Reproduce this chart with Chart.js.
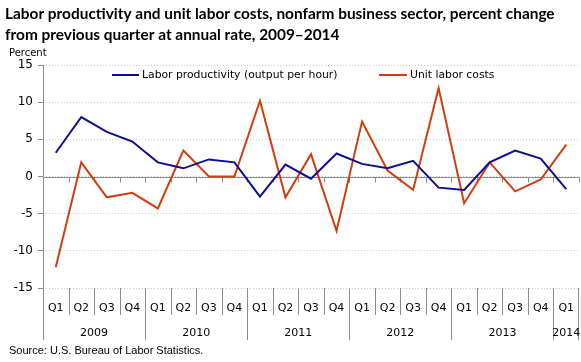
<!DOCTYPE html>
<html>
<head>
<meta charset="utf-8">
<script src="https://cdn.jsdelivr.net/npm/chart.js@4.4.1/dist/chart.umd.min.js"></script>
<style>
  html, body { margin: 0; padding: 0; background: #fff; }
  #wrap { width: 581px; height: 362px; }
</style>
</head>
<body>
<div id="wrap"><canvas id="c" width="581" height="362"></canvas></div>
<script>
const QUARTERS = ["Q1","Q2","Q3","Q4","Q1","Q2","Q3","Q4","Q1","Q2","Q3","Q4",
                  "Q1","Q2","Q3","Q4","Q1","Q2","Q3","Q4","Q1"];
const YEARS = ["2009","2010","2011","2012","2013","2014"];
const YEAR_SPANS = [4, 4, 4, 4, 4, 1];
const PRODUCTIVITY = [3.2, 8.0, 6.0, 4.7, 1.9, 1.1, 2.3, 1.9, -2.7, 1.6, -0.3, 3.1,
                      1.7, 1.1, 2.1, -1.5, -1.8, 1.9, 3.5, 2.4, -1.7];
const UNIT_LABOR_COSTS = [-12.2, 1.9, -2.8, -2.2, -4.3, 3.5, 0.0, 0.0, 10.2, -2.8, 3.0, -7.3,
                          7.4, 0.8, -1.8, 11.9, -3.6, 1.9, -2.0, -0.4, 4.3];
const Y_TICKS = [15, 10, 5, 0, -5, -10, -15];

const BLUE = "#0c0c94";
const ORANGE = "#d23d0c";
const AXIS = "#8c8c8c";
const FONT = "'DejaVu Sans', Verdana, sans-serif";

/* Extra drawing: titles, zero line, legend, two-level category axis */
const decor = {
  id: "decor",
  beforeDatasetsDraw(chart) {
    const { ctx, chartArea: a, scales: { x, y } } = chart;
    ctx.save();
    // zero line + little ticks
    const y0 = Math.round(y.getPixelForValue(0)) + 0.5;
    ctx.strokeStyle = AXIS;
    ctx.lineWidth = 1;
    ctx.beginPath();
    ctx.moveTo(a.left, y0); ctx.lineTo(a.right, y0);
    for (let i = 1; i <= QUARTERS.length; i++) {
      const px = Math.round(x.getPixelForValue(i - 0.5)) + 0.5;
      ctx.moveTo(px, y0); ctx.lineTo(px, y0 + 5);
    }
    ctx.stroke();
    ctx.restore();
  },
  afterDraw(chart) {
    const { ctx, chartArea: a, scales: { x } } = chart;
    ctx.save();
    ctx.fillStyle = "#000";
    ctx.textBaseline = "alphabetic";
    ctx.textAlign = "left";
    ctx.font = "bold 15.4px Lato, sans-serif";
    ctx.fillText("Labor productivity and unit labor costs, nonfarm business sector, percent change", 5, 19);
    ctx.fillText("from previous quarter at annual rate, 2009\u20132014", 5, 40);
    ctx.font = "10px " + FONT;
    ctx.fillText("Percent", 9, 56);
    ctx.font = "11px 'Liberation Sans', sans-serif";
    ctx.fillText("Source: U.S. Bureau of Labor Statistics.", 9, 354);

    // left axis extending into label area
    ctx.strokeStyle = AXIS;
    ctx.lineWidth = 1;
    ctx.beginPath();
    const lx = Math.round(a.left) + 0.5;
    ctx.moveTo(lx, a.top); ctx.lineTo(lx, 340);
    // quarter separators
    for (let i = 1; i < QUARTERS.length; i++) {
      const px = Math.round(x.getPixelForValue(i - 0.5)) + 0.5;
      ctx.moveTo(px, a.bottom); ctx.lineTo(px, 315);
    }
    // year separators + year labels
    let start = 0;
    const rx = Math.round(a.right) - 0.5;
    ctx.moveTo(rx, a.bottom); ctx.lineTo(rx, 340);
    ctx.stroke();
    ctx.font = "11px " + FONT;
    ctx.textAlign = "center";
    YEARS.forEach((yr, k) => {
      const end = start + YEAR_SPANS[k];
      const x1 = x.getPixelForValue(start - 0.5);
      const x2 = Math.min(x.getPixelForValue(end - 0.5), a.right);
      if (k > 0) {
        const px = Math.round(x1) + 0.5;
        ctx.beginPath(); ctx.moveTo(px, a.bottom); ctx.lineTo(px, 340); ctx.stroke();
      }
      ctx.fillText(yr, (x1 + x2) / 2, 336);
      start = end;
    });

    // legend
    ctx.textAlign = "left";
    ctx.textBaseline = "middle";
    ctx.font = "10.8px " + FONT;
    ctx.lineWidth = 2;
    [[BLUE, "Labor productivity (output per hour)", 112, 139],
     [ORANGE, "Unit labor costs", 379, 407]].forEach(([col, txt, x1, x2]) => {
      ctx.strokeStyle = col;
      ctx.beginPath(); ctx.moveTo(x1, 75); ctx.lineTo(x2, 75); ctx.stroke();
      ctx.fillText(txt, x2 + 3, 75);
    });
    ctx.restore();
  },
};

new Chart(document.getElementById("c"), {
  type: "line",
  data: {
    labels: QUARTERS,
    datasets: [
      { label: "Labor productivity (output per hour)", data: PRODUCTIVITY,
        borderColor: BLUE, backgroundColor: BLUE },
      { label: "Unit labor costs", data: UNIT_LABOR_COSTS,
        borderColor: ORANGE, backgroundColor: ORANGE },
    ],
  },
  options: {
    responsive: false,
    animation: false,
    devicePixelRatio: 1,
    layout: { padding: { top: 65, left: 0, right: 2, bottom: 0 } },
    elements: {
      line: { borderWidth: 2, tension: 0 },
      point: { radius: 0 },
    },
    plugins: { legend: { display: false }, tooltip: { enabled: false }, title: { display: false } },
    scales: {
      x: {
        type: "category",
        offset: true,
        grid: { display: false },
        border: { display: false },
        ticks: { color: "#000", font: { family: FONT, size: 11 }, padding: 6, maxRotation: 0, autoSkip: false },
        afterFit(s) { s.height = 74; },
      },
      y: {
        min: -15, max: 15,
        afterBuildTicks(s) { s.ticks = Y_TICKS.map(v => ({ value: v })); },
        grid: { color: "#c8c8c8", tickColor: AXIS, tickLength: 5 },
        border: { display: false, dash: [1, 2] },
        ticks: { color: "#000", font: { family: FONT, size: 12 }, padding: 5 },
        afterFit(s) { s.width = 43; },
      },
    },
  },
  plugins: [decor],
});
</script>
</body>
</html>
